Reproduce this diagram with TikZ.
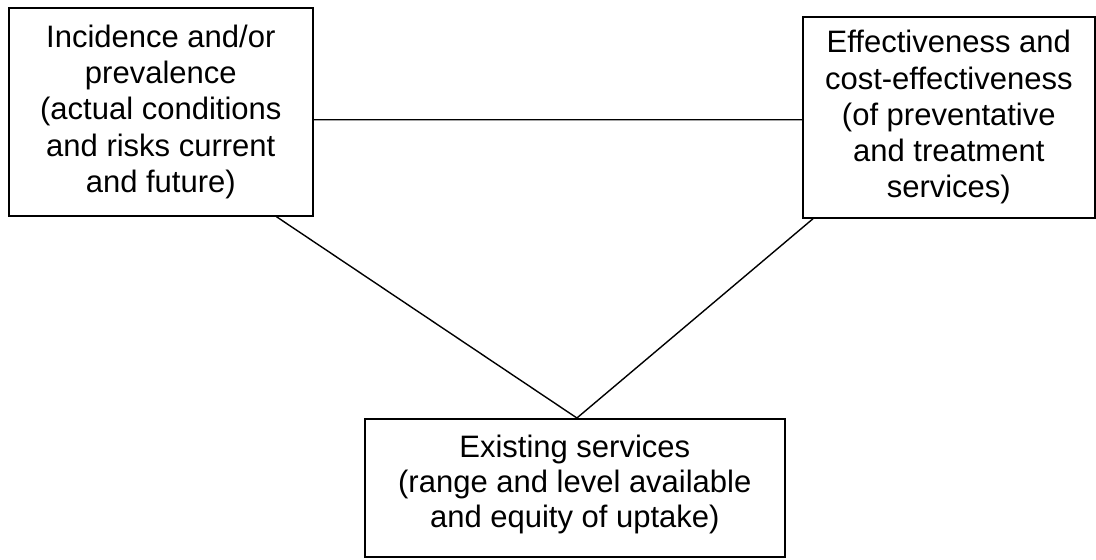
\documentclass[tikz,border=0pt]{standalone}
\usepackage{fontspec}
\setmainfont{Liberation Sans}
\usetikzlibrary{calc}
\begin{document}
\begin{tikzpicture}[x=1pt,y=-1pt,
  boxnode/.style={draw, line width=1.6pt, inner sep=0pt, anchor=north west},
  txt/.style={align=center, font=\fontsize{31}{36.3}\selectfont, inner sep=0pt},
  link/.style={line width=1.4pt}]
\useasboundingbox (0,0) rectangle (1096,560);
\node[boxnode, minimum width=304pt, minimum height=208pt] (L) at (8,7) {};
\node[txt] (Lt) at (L.center) {Incidence and/or\\prevalence\\(actual conditions\\and risks current\\and future)};
\node[boxnode, minimum width=292pt, minimum height=201pt] (R) at (802,16) {};
\node[txt] (Rt) at (R.center) {Effectiveness and\\cost-effectiveness\\(of preventative\\and treatment\\services)};
\node[boxnode, minimum width=420pt, minimum height=138pt] (B) at (364,418) {};
\node[txt, font=\fontsize{31}{35}\selectfont] (Bt) at ($(B.center)+(0,-3.5)$) {Existing services\\(range and level available\\and equity of uptake)};
\coordinate (Lh) at ($(L.north east)!0.538!(L.south east)$);
\coordinate (Rh) at ($(R.north west)!0.512!(R.south west)$);
\coordinate (Ld) at ($(L.south west)!0.878!(L.south east)$);
\coordinate (Rd) at ($(R.south west)!0.038!(R.south east)$);
\coordinate (Bm) at ($(B.north west)!0.505!(B.north east)$);
\draw[link] (Lh) -- (Rh);
\draw[link] (Ld) -- (Bm);
\draw[link] (Rd) -- (Bm);
\end{tikzpicture}
\end{document}
